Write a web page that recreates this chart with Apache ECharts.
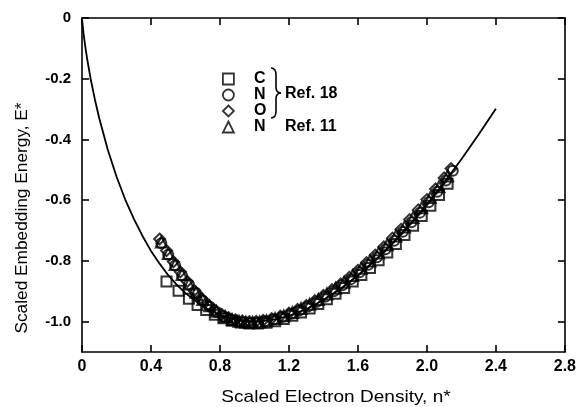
<!DOCTYPE html>
<html>
<head>
<meta charset="utf-8">
<script src="https://cdn.jsdelivr.net/npm/echarts@6/dist/echarts.min.js"></script>
<style>
html,body{margin:0;padding:0;background:#fff;}
#chart{width:579px;height:407px;}
</style>
</head>
<body>
<div id="chart"></div>
<script>
// ---- data ----
var xTicks = [0, 0.4, 0.8, 1.2, 1.6, 2.0, 2.4, 2.8];
var yTicks = [0, -0.2, -0.4, -0.6, -0.8, -1.0];

// solid universal curve
var curve = [[0,0],[0.005,-0.032],[0.01,-0.056],[0.02,-0.098],[0.03,-0.135],[0.05,-0.200],[0.075,-0.269],[0.1,-0.330],[0.15,-0.435],[0.2,-0.522],[0.25,-0.597],[0.3,-0.661],[0.35,-0.717],[0.4,-0.767],[0.45,-0.809],[0.5,-0.847],[0.55,-0.879],[0.6,-0.906],[0.7,-0.950],[0.8,-0.979],[0.9,-0.995],[1.0,-1.000],[1.1,-0.995],[1.2,-0.981],[1.3,-0.959],[1.4,-0.929],[1.5,-0.892],[1.6,-0.848],[1.7,-0.798],[1.8,-0.742],[1.9,-0.680],[2.0,-0.614],[2.1,-0.542],[2.2,-0.465],[2.3,-0.384],[2.4,-0.299]];

// C, Ref. 18 (squares)
var cRef18 = [[0.49,-0.868],[0.56,-0.898],[0.62,-0.925],[0.67,-0.945],[0.72,-0.962],[0.77,-0.977],[0.82,-0.989],[0.87,-0.997],[0.92,-1.003],[0.97,-1.006],[1.02,-1.006],[1.07,-1.004],[1.12,-0.999],[1.17,-0.991],[1.22,-0.981],[1.27,-0.970],[1.32,-0.957],[1.37,-0.942],[1.42,-0.926],[1.47,-0.908],[1.52,-0.889],[1.57,-0.868],[1.62,-0.846],[1.67,-0.823],[1.72,-0.798],[1.77,-0.772],[1.82,-0.744],[1.87,-0.715],[1.92,-0.684],[1.97,-0.652],[2.02,-0.618],[2.07,-0.583],[2.12,-0.546]];

// N, Ref. 18 (circles)
var nRef18 = [[0.46,-0.742],[0.50,-0.780],[0.54,-0.815],[0.58,-0.848],[0.62,-0.878],[0.66,-0.905],[0.70,-0.930],[0.74,-0.950],[0.78,-0.968],[0.82,-0.982],[0.86,-0.992],[0.90,-0.999],[0.94,-1.003],[0.98,-1.004],[1.02,-1.003],[1.06,-0.999],[1.11,-0.993],[1.16,-0.985],[1.21,-0.975],[1.26,-0.963],[1.31,-0.950],[1.36,-0.935],[1.41,-0.918],[1.46,-0.900],[1.51,-0.880],[1.56,-0.860],[1.61,-0.837],[1.66,-0.813],[1.71,-0.788],[1.76,-0.762],[1.81,-0.734],[1.86,-0.704],[1.91,-0.673],[1.96,-0.641],[2.01,-0.607],[2.06,-0.572],[2.11,-0.535],[2.15,-0.503]];

// O, Ref. 18 (diamonds)
var oRef18 = [[0.45,-0.728],[0.49,-0.766],[0.53,-0.803],[0.57,-0.836],[0.61,-0.868],[0.65,-0.898],[0.69,-0.922],[0.73,-0.944],[0.77,-0.962],[0.81,-0.976],[0.85,-0.987],[0.89,-0.994],[0.93,-0.998],[0.97,-1.000],[1.01,-0.999],[1.05,-0.996],[1.10,-0.990],[1.15,-0.982],[1.20,-0.972],[1.25,-0.960],[1.30,-0.947],[1.35,-0.931],[1.40,-0.914],[1.45,-0.895],[1.50,-0.876],[1.55,-0.854],[1.60,-0.831],[1.65,-0.806],[1.70,-0.781],[1.75,-0.754],[1.80,-0.725],[1.85,-0.696],[1.90,-0.664],[1.95,-0.632],[2.00,-0.598],[2.05,-0.563],[2.10,-0.527],[2.14,-0.496]];

// N, Ref. 11 (triangles)
var nRef11 = [[0.46,-0.738],[0.50,-0.776],[0.54,-0.812],[0.58,-0.845],[0.62,-0.876],[0.66,-0.903],[0.70,-0.927],[0.74,-0.948],[0.78,-0.966],[0.83,-0.983],[0.87,-0.993],[0.91,-0.999],[0.95,-1.002],[0.99,-1.003],[1.03,-1.001],[1.07,-0.997],[1.12,-0.990],[1.17,-0.981],[1.22,-0.970],[1.27,-0.957],[1.32,-0.943],[1.37,-0.927],[1.42,-0.909],[1.47,-0.890],[1.52,-0.870],[1.57,-0.848],[1.62,-0.824],[1.67,-0.800],[1.72,-0.774],[1.77,-0.747],[1.82,-0.718],[1.87,-0.688],[1.92,-0.657],[1.97,-0.625],[2.02,-0.591],[2.07,-0.556],[2.12,-0.520]];

var FONT = "'Liberation Sans', Arial, Helvetica, sans-serif";
var INK = '#000';

function fmt(v){ return v === 0 ? '0' : v.toFixed(1); }

var chart = echarts.init(document.getElementById('chart'), null, {renderer:'canvas'});

var hollow = {color:'rgba(0,0,0,0)', borderColor:INK, borderWidth:2};
function scat(name, data, symbol, size){
  return {name:name, type:'scatter', data:data, symbol:symbol, symbolSize:size,
    itemStyle:hollow, emphasis:{disabled:true}, z:3};
}

var axisLineStyle = {onZero:false, lineStyle:{color:INK, width:1.6}};
var tickStyle = {inside:true, length:7, lineStyle:{color:INK, width:1.6}};
var braceStyle = {stroke:INK, lineWidth:1.6, fill:null};

chart.setOption({
  animation:false,
  backgroundColor:'#fff',
  textStyle:{fontFamily:FONT, color:INK},
  grid:{left:82, right:12, top:18, bottom:55, containLabel:false},
  legend:{
    orient:'vertical', left:217, top:66, itemWidth:11, itemHeight:11, itemGap:0,
    data:['C','N','O','N '],
    itemStyle:{color:'rgba(0,0,0,0)', borderColor:INK, borderWidth:1.8},
    selectedMode:false,
    formatter:function(n){ return '{a|' + n.trim() + '}'; },
    textStyle:{fontFamily:FONT, color:INK, fontSize:16, fontWeight:'bold',
      rich:{a:{fontFamily:FONT, fontSize:16, fontWeight:'bold', color:INK, padding:[0,0,0,15], lineHeight:15}}}
  },
  xAxis:[{
    type:'value', min:0, max:2.8, interval:0.4, position:'bottom',
    axisLine:axisLineStyle, axisTick:tickStyle, splitLine:{show:false},
    axisLabel:{formatter:fmt, customValues:xTicks, margin:7, fontFamily:FONT, fontSize:16, fontWeight:'bold', color:INK}
  },{
    type:'value', min:0, max:2.8, interval:0.4, position:'top',
    axisLine:axisLineStyle, axisTick:tickStyle, splitLine:{show:false}, axisLabel:{show:false}
  }],
  yAxis:[{
    type:'value', min:-1.1, max:0, position:'left',
    axisLine:axisLineStyle,
    axisTick:{inside:true, length:7, lineStyle:{color:INK, width:1.6}, customValues:yTicks},
    splitLine:{show:false},
    axisLabel:{formatter:fmt, customValues:yTicks, margin:11, fontFamily:FONT, fontSize:15, fontWeight:'bold', color:INK}
  },{
    type:'value', min:-1.1, max:0, position:'right',
    axisLine:axisLineStyle,
    axisTick:{inside:true, length:7, lineStyle:{color:INK, width:1.6}, customValues:yTicks},
    splitLine:{show:false}, axisLabel:{show:false}
  }],
  graphic:[
    {type:'text', x:23, y:218, rotation:Math.PI/2, scaleX:1.08,
      style:{text:'Scaled Embedding Energy, E*', font:'16px ' + FONT, fill:INK, textAlign:'center', textVerticalAlign:'middle'}},
    {type:'text', x:336, y:397, scaleX:1.12,
      style:{text:'Scaled Electron Density, n*', font:'17px ' + FONT, fill:INK, textAlign:'center', textVerticalAlign:'middle'}},
    {type:'bezierCurve', shape:{x1:271,y1:68,cpx1:276,cpy1:68,x2:276,y2:75}, style:braceStyle},
    {type:'line', shape:{x1:276,y1:75,x2:276,y2:87}, style:braceStyle},
    {type:'bezierCurve', shape:{x1:276,y1:87,cpx1:276,cpy1:93,x2:281,y2:93}, style:braceStyle},
    {type:'bezierCurve', shape:{x1:281,y1:93,cpx1:276,cpy1:93,x2:276,y2:99}, style:braceStyle},
    {type:'line', shape:{x1:276,y1:99,x2:276,y2:111}, style:braceStyle},
    {type:'bezierCurve', shape:{x1:276,y1:111,cpx1:276,cpy1:118,x2:271,y2:118}, style:braceStyle},
    {type:'text', x:285, y:94, style:{text:'Ref. 18', font:'bold 16px ' + FONT, fill:INK, textVerticalAlign:'middle'}},
    {type:'text', x:285, y:127, style:{text:'Ref. 11', font:'bold 16px ' + FONT, fill:INK, textVerticalAlign:'middle'}}
  ],
  series:[
    {name:'curve', type:'line', data:curve, showSymbol:false, symbol:'none', smooth:false,
      lineStyle:{color:INK, width:1.8}, emphasis:{disabled:true}, z:2},
    scat('C', cRef18, 'rect', 10),
    scat('N', nRef18, 'circle', 10),
    scat('O', oRef18, 'diamond', 11),
    scat('N ', nRef11, 'triangle', 11)
  ]
});
</script>
</body>
</html>
